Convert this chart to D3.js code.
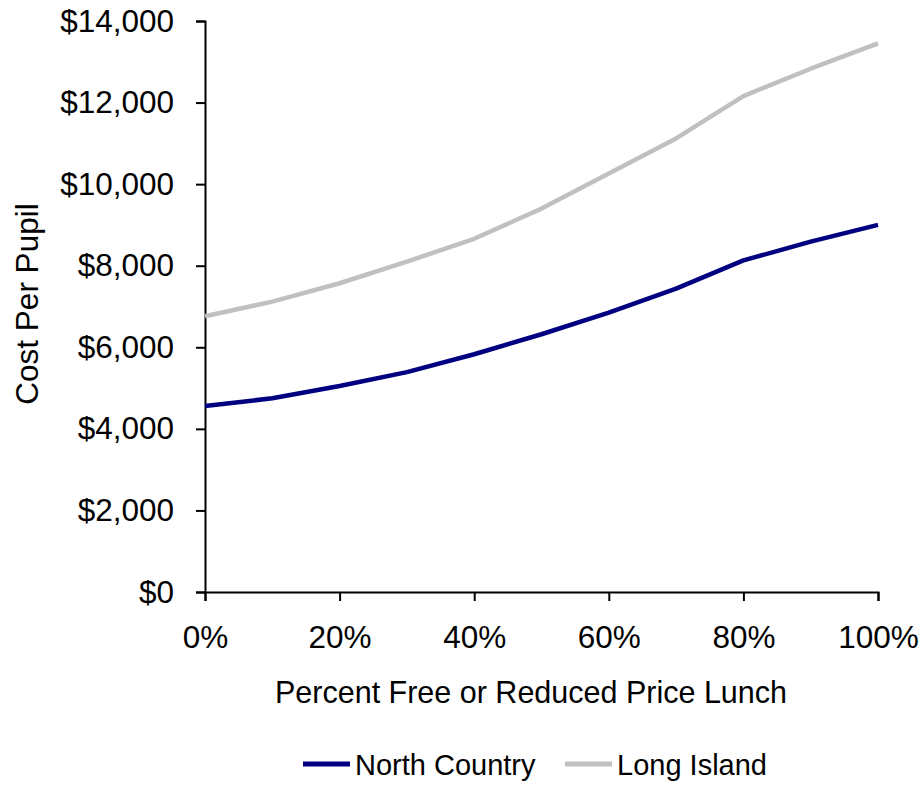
<!DOCTYPE html>
<html>
<head>
<meta charset="utf-8">
<script src="https://cdn.jsdelivr.net/npm/d3@7"></script>
<style>
  body { margin: 0; background: #fff; }
  text { font-family: "Liberation Sans", Arial, sans-serif; fill: #000; }
</style>
</head>
<body>
<script>
// values, one point per 10% of free/reduced lunch
const pctLunch = [0, 10, 20, 30, 40, 50, 60, 70, 80, 90, 100];
const northCountry = [4560, 4750, 5050, 5390, 5830, 6320, 6850, 7440, 8130, 8590, 9000];
const longIsland = [6760, 7120, 7570, 8100, 8660, 9400, 10260, 11120, 12160, 12830, 13450];
const xTicks = [0, 20, 40, 60, 80, 100];
const yTicks = [0, 2000, 4000, 6000, 8000, 10000, 12000, 14000];

const seriesList = [
    {name: "North Country", values: northCountry, color: "#000080"},
    {name: "Long Island", values: longIsland, color: "#c0c0c0"}
];

const W = 920, H = 786;
const margin = ({top: 21, right: 42, bottom: 194, left: 205});
const width = W - margin.left - margin.right,
    height = H - margin.top - margin.bottom;

const svg = d3.select("body").append("svg")
    .attr("width", W)
    .attr("height", H);

const g = svg.append("g")
    .attr("transform", "translate(" + margin.left + "," + margin.top + ")");

const x = d3.scaleLinear().domain([0, 100]).range([0, width]);
const y = d3.scaleLinear().domain([0, 14000]).range([height, 0]);

// y axis
const yAxis = g.append("g")
    .call(d3.axisLeft(y).tickValues(yTicks).tickSize(9).tickPadding(22)
        .tickFormat(d => "$" + d3.format(",")(d)));
// x axis
const xAxis = g.append("g")
    .attr("transform", "translate(0," + height + ")")
    .call(d3.axisBottom(x).tickValues(xTicks).tickSize(9).tickPadding(25)
        .tickFormat(d => d + "%"));

[yAxis, xAxis].forEach(a => {
    a.select(".domain").attr("stroke", "#000").attr("stroke-width", 2);
    a.selectAll(".tick line").attr("stroke", "#000").attr("stroke-width", 2);
    a.selectAll(".tick text")
        .attr("font-family", "Liberation Sans, Arial, sans-serif")
        .attr("font-size", 31.5)
        .attr("fill", "#000");
});

// lines
const line = d3.line()
    .x((d, i) => x(pctLunch[i]))
    .y(d => y(d));

seriesList.slice().reverse().forEach(s => {
    g.append("path")
        .datum(s.values)
        .attr("fill", "none")
        .attr("stroke", s.color)
        .attr("stroke-width", 4.5)
        .attr("stroke-linejoin", "round")
        .attr("d", line);
});

// axis titles
svg.append("text")
    .attr("x", 531)
    .attr("y", 703)
    .attr("text-anchor", "middle")
    .attr("font-size", 30.5)
    .text("Percent Free or Reduced Price Lunch");

svg.append("text")
    .attr("transform", "translate(38,304) rotate(-90)")
    .attr("text-anchor", "middle")
    .attr("font-size", 31.5)
    .text("Cost Per Pupil");

// legend
const legendX = [303, 565];
const legend = svg.selectAll(".legend")
    .data(seriesList)
    .enter().append("g")
    .attr("class", "legend")
    .attr("transform", (d, i) => "translate(" + legendX[i] + ",764)");

legend.append("line")
    .attr("x1", 0).attr("x2", 47)
    .attr("stroke", d => d.color)
    .attr("stroke-width", 5);

legend.append("text")
    .attr("x", 52)
    .attr("y", 11)
    .attr("font-size", 29)
    .text(d => d.name);
</script>
</body>
</html>
